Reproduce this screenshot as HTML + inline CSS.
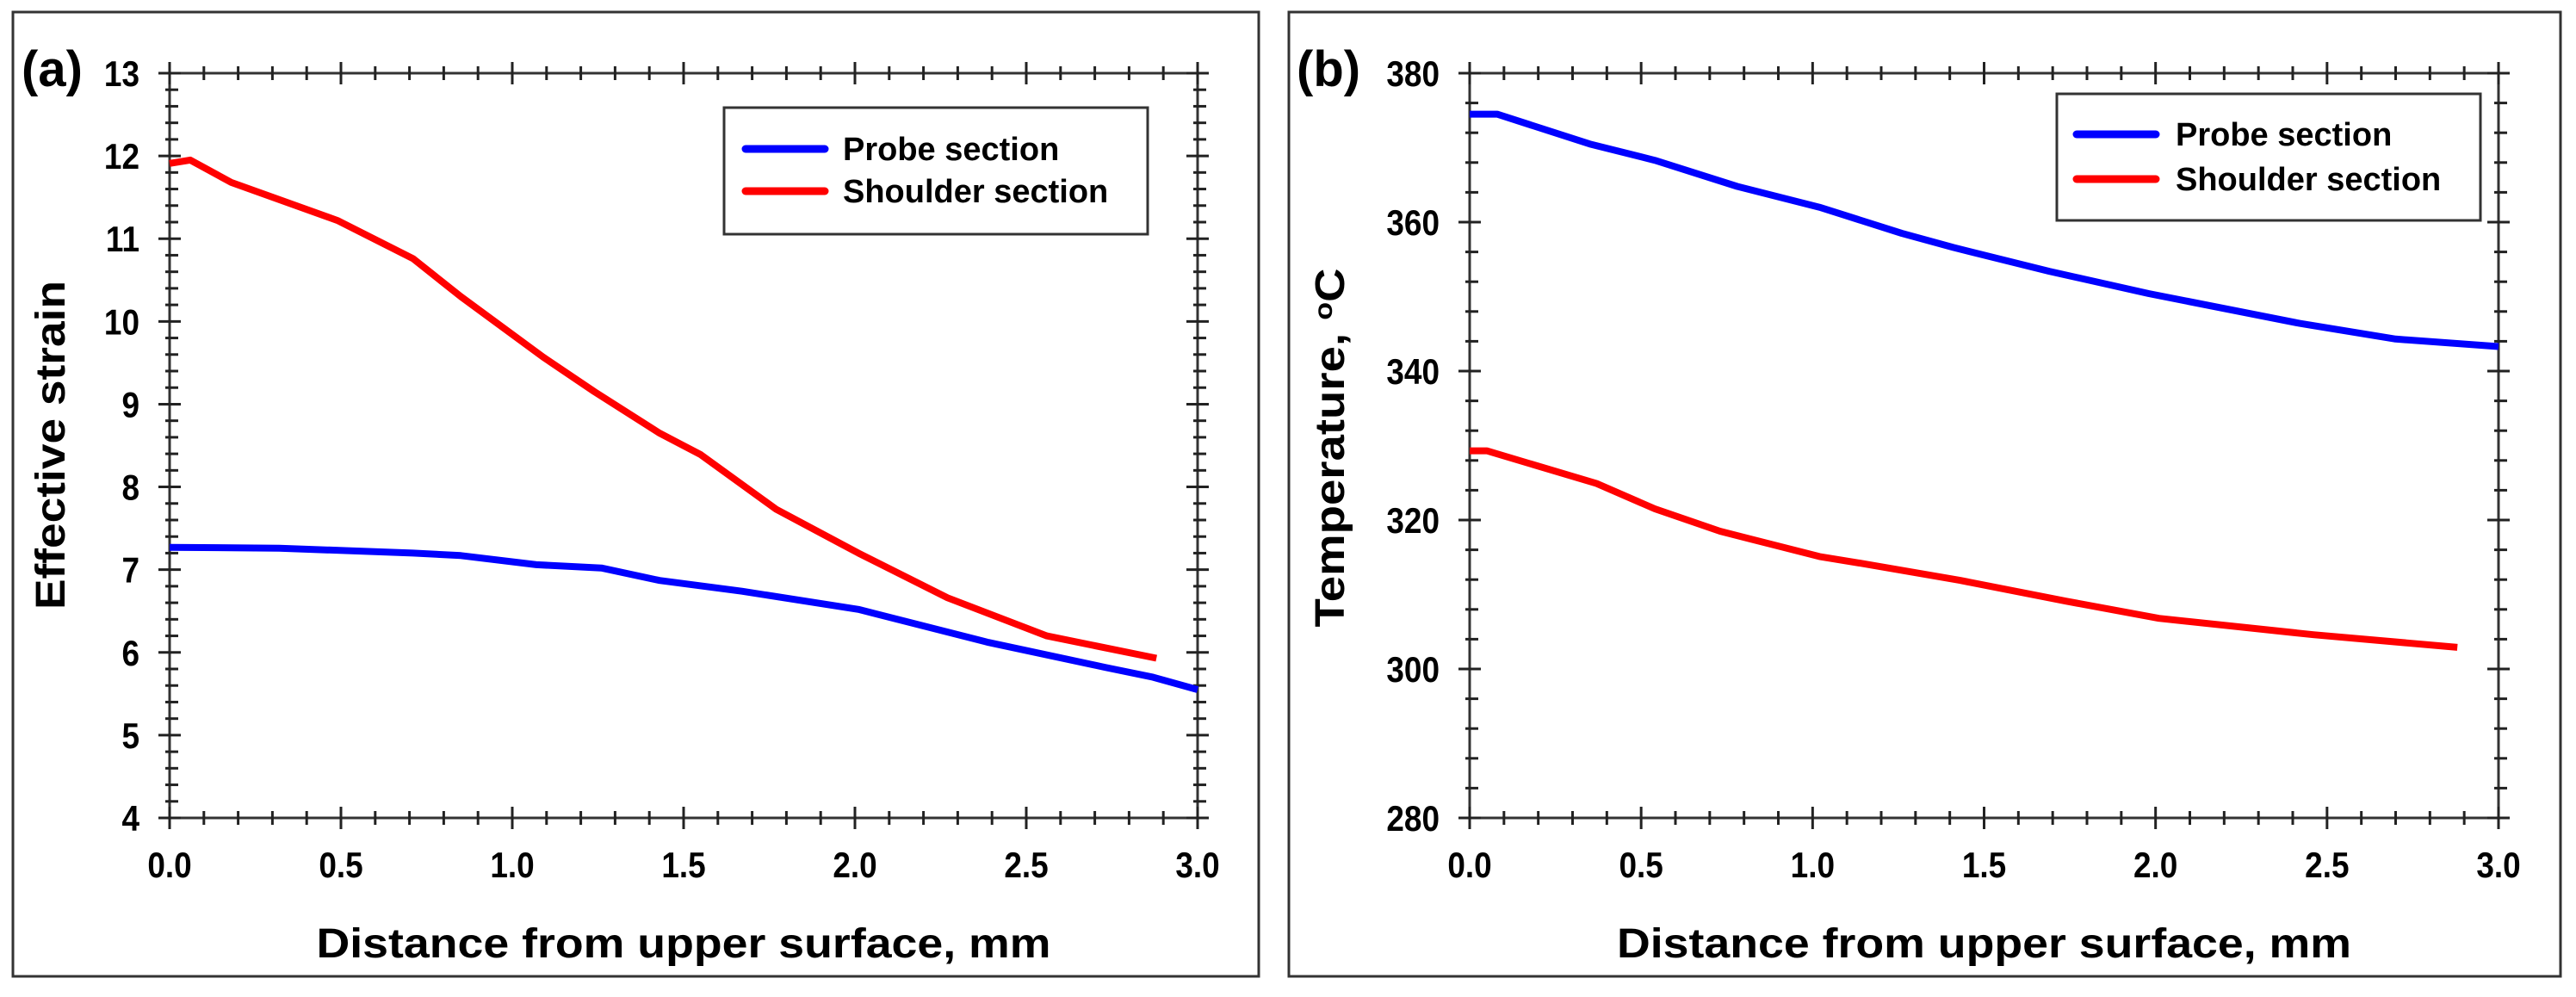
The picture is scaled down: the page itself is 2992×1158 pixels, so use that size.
<!DOCTYPE html>
<html><head><meta charset="utf-8"><style>
html,body{margin:0;padding:0;background:#fff;}
svg{display:block;}
text{font-family:"Liberation Sans",Arial,sans-serif;font-weight:bold;fill:#000;}
</style></head><body>
<svg id="fig" width="2992" height="1158" viewBox="0 0 2992 1158" xmlns="http://www.w3.org/2000/svg">
<rect x="15" y="14" width="1447" height="1120" fill="none" stroke="#333" stroke-width="3"/>
<rect x="1497" y="14" width="1477" height="1120" fill="none" stroke="#333" stroke-width="3"/>
<g id="pa"></g>
<g id="pb"></g>
</svg>
<script>
// Panel (a) data
const aXTicks = [0,0.5,1.0,1.5,2.0,2.5,3.0];
const aYTicks = [4,5,6,7,8,9,10,11,12,13];
const aProbeX = [0,0.32,0.71,0.85,1.07,1.26,1.43,1.67,2.01,2.39,2.73,2.87,3.0];
const aProbeY = [7.27,7.26,7.20,7.17,7.06,7.02,6.87,6.74,6.52,6.12,5.82,5.70,5.55];
const aShoulderX = [0,0.06,0.18,0.49,0.71,0.85,1.09,1.24,1.43,1.55,1.77,2.01,2.27,2.56,2.88];
const aShoulderY = [11.91,11.95,11.68,11.22,10.76,10.30,9.57,9.15,8.65,8.39,7.73,7.20,6.66,6.20,5.93];
// Panel (b) data
const bXTicks = [0,0.5,1.0,1.5,2.0,2.5,3.0];
const bYTicks = [280,300,320,340,360,380];
const bProbeX = [0,0.08,0.35,0.54,0.78,1.02,1.26,1.41,1.69,1.98,2.42,2.70,3.0];
const bProbeY = [374.5,374.5,370.5,368.3,364.8,362,358.5,356.6,353.4,350.4,346.4,344.3,343.3];
const bShoulderX = [0,0.05,0.37,0.54,0.73,1.02,1.14,1.43,1.74,2.01,2.46,2.88];
const bShoulderY = [329.3,329.3,324.9,321.5,318.5,315.1,314.2,311.9,309.1,306.8,304.6,302.9];
const legendLabels = ["Probe section","Shoulder section"];

const NS="http://www.w3.org/2000/svg";
function mk(parent,tag,attrs,txt){const e=document.createElementNS(NS,tag);for(const k in attrs)e.setAttribute(k,attrs[k]);if(txt!==undefined)e.textContent=txt;parent.appendChild(e);return e;}

function panel(g,cfg){
  const {x0,x1,y0,y1,xmin,xmax,ymin,ymax}=cfg;
  const sx=v=>x0+(v-xmin)/(xmax-xmin)*(x1-x0);
  const sy=v=>y1-(v-ymin)/(ymax-ymin)*(y1-y0);
  const ax=mk(g,'rect',{x:x0,y:y0,width:x1-x0,height:y1-y0,fill:'none',stroke:'#333','stroke-width':3});
  
  
  const xminor=0.1;
  for(let i=0;i<=Math.round((xmax-xmin)/xminor);i++){
    const v=xmin+i*xminor;const major=(i%5===0);const L=major?13:8;const X=sx(v);
    for(const Y of [y0,y1]){
      const t=mk(g,'line',{x1:X,x2:X,y1:Y-L,y2:Y+L,stroke:'#222','stroke-width':3});
      
      
    }
  }
  const yminor=cfg.yminor;const ystep=cfg.ystep;
  const nmin=Math.round((ymax-ymin)/yminor);const per=Math.round(ystep/yminor);
  for(let i=0;i<=nmin;i++){
    const v=ymin+i*yminor;const major=(i%per===0);const Y=sy(v);
    for(const X of [x0,x1]){
      const t=major?mk(g,'line',{x1:X-13,x2:X+13,y1:Y,y2:Y,stroke:'#222','stroke-width':3}):mk(g,'line',{x1:X-5,x2:X+10,y1:Y,y2:Y,stroke:'#222','stroke-width':3});
      
      
    }
  }
  cfg.xticks.forEach(v=>{
    const t=mk(g,'text',{x:0,y:0,'text-anchor':'middle','font-size':42,transform:`translate(${sx(v)},1019) scale(0.88,1)`},v.toFixed(1));
    
    
  });
  cfg.yticks.forEach(v=>{
    const t=mk(g,'text',{x:0,y:0,'text-anchor':'end','font-size':42,transform:`translate(${x0-35},${sy(v)+15}) scale(0.88,1)`},String(v));
    
    
  });
  const ser=[[cfg.px,cfg.py,'#0000ff','probe-section-line'],[cfg.shx,cfg.shy,'#ff0000','shoulder-section-line']];
  ser.forEach(([xs,ys,c,n])=>{
    const d=xs.map((v,i)=>(i?'L':'M')+sx(v).toFixed(1)+' '+sy(ys[i]).toFixed(1)).join(' ');
    const p=mk(g,'path',{d:d,fill:'none',stroke:c,'stroke-width':8,'stroke-linejoin':'round'});
    
    
  });
  const L=cfg.leg;
  const lg=mk(g,'g',{});
  
  
  mk(lg,'rect',{x:L.x,y:L.y,width:L.w,height:L.h,fill:'#fff',stroke:'#333','stroke-width':3});
  ['#0000ff','#ff0000'].forEach((c,i)=>{
    const yy=L.ly[i];
    const ln=mk(lg,'line',{x1:L.lx1,x2:L.lx2,y1:yy,y2:yy,stroke:c,'stroke-width':9,'stroke-linecap':'round'});
    
    
    const tx=mk(lg,'text',{x:L.tx,y:yy+13,'font-size':38},legendLabels[i]);
    
    
  });
  const xt=mk(g,'text',{x:(x0+x1)/2,y:1112,'text-anchor':'middle','font-size':48,textLength:cfg.xtw,lengthAdjust:'spacingAndGlyphs'},'Distance from upper surface, mm');
  
  
  const yt=mk(g,'text',{x:0,y:0,'text-anchor':'middle','font-size':48,transform:`translate(${cfg.ytx},${cfg.ytc}) rotate(-90)`,textLength:cfg.ytw,lengthAdjust:'spacingAndGlyphs'});
  
  
  yt.innerHTML=cfg.ytitle;
  const lb=mk(g,'text',{x:cfg.lbx,y:100,'font-size':58},cfg.label);
  
  
}
panel(document.getElementById('pa'),{x0:197,x1:1391,y0:85,y1:950,xmin:0,xmax:3,ymin:4,ymax:13,yminor:0.2,ystep:1,
  xticks:aXTicks,yticks:aYTicks,px:aProbeX,py:aProbeY,shx:aShoulderX,shy:aShoulderY,
  leg:{x:841,y:125,w:492,h:147,lx1:866,lx2:958,ly:[173,222],tx:979},
  xtw:853,ytw:382,ytx:75,ytc:517,ytitle:'Effective strain',label:'(a)',lbx:25});
panel(document.getElementById('pb'),{x0:1707,x1:2902,y0:85,y1:950,xmin:0,xmax:3,ymin:280,ymax:380,yminor:4,ystep:20,
  xticks:bXTicks,yticks:bYTicks,px:bProbeX,py:bProbeY,shx:bShoulderX,shy:bShoulderY,
  leg:{x:2389,y:109,w:492,h:147,lx1:2412,lx2:2504,ly:[156,208],tx:2527},
  xtw:853,ytw:417,ytx:1561,ytc:520,ytitle:'Temperature, <tspan dy="-14" font-size="30">o</tspan><tspan dy="14">C</tspan>',label:'(b)',lbx:1506});
</script>
</body></html>
